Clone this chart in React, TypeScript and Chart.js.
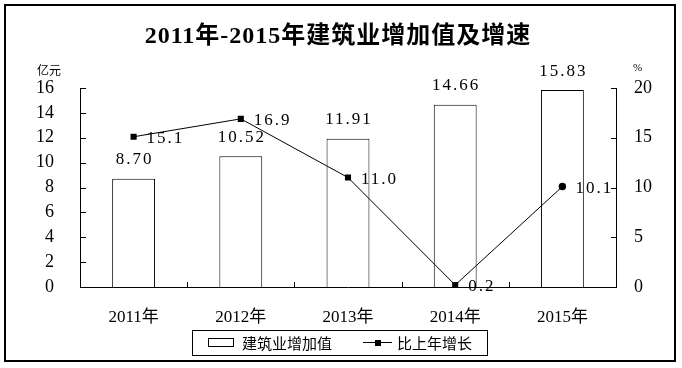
import React, { useEffect, useRef } from 'react';
import { Chart, registerables } from 'chart.js';

Chart.register(...registerables);

const categories = ['2011年', '2012年', '2013年', '2014年', '2015年'];
const addedValue = [8.7, 10.52, 11.91, 14.66, 15.83];
const addedValueLabels = ['8.70', '10.52', '11.91', '14.66', '15.83'];
const growth = [15.1, 16.9, 11.0, 0.2, 10.1];
const growthLabels = ['15.1', '16.9', '11.0', '0.2', '10.1'];
const growthMarkers = ['rect', 'rect', 'rect', 'rect', 'circle'];
const seriesNames = ['建筑业增加值', '比上年增长'];
const titleText = '2011年-2015年建筑业增加值及增速';
const leftUnit = '亿元';
const rightUnit = '%';
const leftRange = [0, 16, 2];
const rightRange = [0, 20, 5];

const SERIF = "'Liberation Serif', 'Noto Sans CJK SC', serif";
const CJK = "'Noto Sans CJK SC', sans-serif";

const decorPlugin = {
  id: 'decor',
  afterDraw(chart: any) {
    const ctx = chart.ctx as any;
    const area = chart.chartArea;
    const xs = chart.scales.x;
    const ys = chart.scales.y;
    const ys1 = chart.scales.y1;
    ctx.save();
    ctx.strokeStyle = '#000';
    ctx.fillStyle = '#000';
    ctx.lineWidth = 1;

    // inner tick marks
    ctx.beginPath();
    for (let v = leftRange[0] + leftRange[2]; v <= leftRange[1]; v += leftRange[2]) {
      const y = Math.round(ys.getPixelForValue(v)) + 0.5;
      ctx.moveTo(area.left, y);
      ctx.lineTo(area.left + 6, y);
    }
    for (let v = rightRange[0] + rightRange[2]; v <= rightRange[1]; v += rightRange[2]) {
      const y = Math.round(ys1.getPixelForValue(v)) + 0.5;
      ctx.moveTo(area.right - 5, y);
      ctx.lineTo(area.right, y);
    }
    for (let i = 0; i < categories.length - 1; i++) {
      const x = Math.round((xs.getPixelForValue(i) + xs.getPixelForValue(i + 1)) / 2) + 0.5;
      ctx.moveTo(x, area.bottom);
      ctx.lineTo(x, area.bottom - 5);
    }
    ctx.stroke();

    // data labels
    ctx.font = `17px ${SERIF}`;
    ctx.letterSpacing = '2px';
    const barMeta = chart.getDatasetMeta(0);
    ctx.textAlign = 'center';
    ctx.textBaseline = 'middle';
    barMeta.data.forEach((el: any, i: number) => {
      ctx.fillText(addedValueLabels[i], el.x + 1, el.y - 19);
    });
    const lineMeta = chart.getDatasetMeta(1);
    ctx.textAlign = 'left';
    lineMeta.data.forEach((el: any, i: number) => {
      ctx.fillText(growthLabels[i], el.x + 13, el.y + 2);
    });

    // title
    ctx.letterSpacing = '1px';
    ctx.font = `bold 24px ${SERIF}`;
    ctx.textAlign = 'center';
    ctx.textBaseline = 'middle';
    ctx.fillText(titleText, 338, 37);
    ctx.letterSpacing = '0px';

    // units
    ctx.font = `12px ${CJK}`;
    ctx.textAlign = 'left';
    ctx.fillText(leftUnit, 37, 70);
    ctx.font = `11px ${SERIF}`;
    ctx.fillText(rightUnit, 633, 68);

    // legend
    ctx.lineWidth = 1;
    ctx.strokeRect(192.5, 330.5, 295, 25);
    ctx.fillStyle = '#fff';
    ctx.fillRect(208.5, 338.5, 25, 8);
    ctx.strokeRect(208.5, 338.5, 25, 8);
    ctx.fillStyle = '#000';
    ctx.font = `15px ${CJK}`;
    ctx.textBaseline = 'middle';
    ctx.fillText(seriesNames[0], 242, 343);
    ctx.beginPath();
    ctx.moveTo(363, 342.5);
    ctx.lineTo(392, 342.5);
    ctx.stroke();
    ctx.fillRect(375, 340, 6, 6);
    ctx.fillText(seriesNames[1], 397, 343);

    // outer border
    ctx.lineWidth = 2;
    ctx.strokeRect(5, 5, 670, 356);
    ctx.restore();
  },
};

export default function App() {
  const ref = useRef<HTMLCanvasElement | null>(null);
  useEffect(() => {
    document.body.style.margin = '0';
    const canvas = ref.current!;
    const chart = new Chart(canvas, {
      type: 'bar',
      data: {
        labels: categories,
        datasets: [
          {
            type: 'bar',
            label: seriesNames[0],
            data: addedValue,
            yAxisID: 'y',
            backgroundColor: '#fff',
            borderColor: '#000',
            borderWidth: 1,
            barPercentage: 0.4,
            categoryPercentage: 1,
            order: 2,
          },
          {
            type: 'line',
            label: seriesNames[1],
            data: growth,
            yAxisID: 'y1',
            borderColor: '#000',
            borderWidth: 1,
            backgroundColor: '#000',
            pointStyle: growthMarkers as any,
            pointRadius: [4.3, 4.3, 4.3, 4.3, 3.7],
            pointBorderWidth: 0,
            order: 1,
          } as any,
        ],
      },
      options: {
        responsive: false,
        animation: false,
        devicePixelRatio: 1,
        layout: { padding: { top: 88, left: 0, right: 0, bottom: 0 } },
        plugins: { legend: { display: false }, tooltip: { enabled: false }, title: { display: false } },
        scales: {
          x: {
            grid: { display: false, drawTicks: false },
            border: { display: true, color: '#000', width: 1 },
            ticks: { color: '#000', font: { family: SERIF, size: 17 }, padding: 20 },
            afterFit: (s: any) => { s.height = 81; },
          },
          y: {
            position: 'left',
            min: leftRange[0],
            max: leftRange[1],
            ticks: { stepSize: leftRange[2], color: '#000', padding: 26, font: { family: SERIF, size: 18 } },
            grid: { display: false, drawTicks: false },
            border: { display: true, color: '#000', width: 1 },
            afterFit: (s: any) => { s.width = 80; },
          },
          y1: {
            position: 'right',
            min: rightRange[0],
            max: rightRange[1],
            ticks: { stepSize: rightRange[2], color: '#000', padding: 18, font: { family: SERIF, size: 18 } },
            grid: { display: false, drawTicks: false },
            border: { display: true, color: '#000', width: 1 },
            afterFit: (s: any) => { s.width = 66; },
          },
        },
      } as any,
      plugins: [decorPlugin],
    });
    return () => chart.destroy();
  }, []);
  return <canvas ref={ref} width={682} height={368} style={{ display: 'block' }} />;
}
